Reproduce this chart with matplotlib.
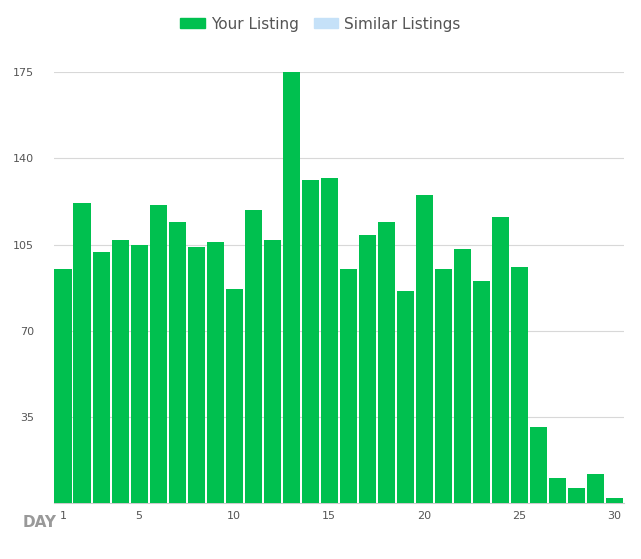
import matplotlib.pyplot as plt
from matplotlib.patches import Patch

days = list(range(1, 31))
your_listing = [95, 122, 102, 107, 105, 121, 114, 104, 106, 87,
                119, 107, 175, 131, 132, 95, 109, 114, 86, 125,
                95, 103, 90, 116, 96, 31, 10, 6, 12, 2]
y_ticks = [35, 70, 105, 140, 175]
x_ticks = [1, 5, 10, 15, 20, 25, 30]

green = '#00c04f'
light_blue = '#c5e1f8'

fig = plt.figure(figsize=(6.41, 5.59), dpi=100)
ax = fig.add_axes([0.0835, 0.1, 0.89, 0.771])

ax.bar(days, your_listing, width=0.9, color=green, zorder=3)
ax.set_xlim(0.5, 30.5)
ax.set_ylim(0, 175)

ax.set_yticks(y_ticks)
ax.set_yticklabels([str(v) for v in y_ticks])
ax.set_xticks(x_ticks)
ax.set_xticklabels([str(v) for v in x_ticks])
ax.tick_params(axis='both', length=0, labelsize=8, colors='#555555')
ax.tick_params(axis='y', pad=14)
ax.tick_params(axis='x', pad=6)
ax.yaxis.grid(True, color='#d8d8d8', linewidth=0.8, zorder=0)
for s in ['top', 'right', 'left']:
    ax.spines[s].set_visible(False)
ax.spines['bottom'].set_color('#cccccc')

fig.text(0.035, 0.058, 'DAY', fontsize=11, fontweight='bold', color='#999999')

handles = [Patch(color=green, label='Your Listing'),
           Patch(color=light_blue, label='Similar Listings')]
fig.legend(handles=handles, loc='upper center', bbox_to_anchor=(0.5, 0.995),
           ncol=2, frameon=False, fontsize=11, handlelength=1.6,
           handleheight=0.6, columnspacing=1.0, handletextpad=0.4,
           labelcolor='#555555')

fig.savefig('out.png', dpi=100)
